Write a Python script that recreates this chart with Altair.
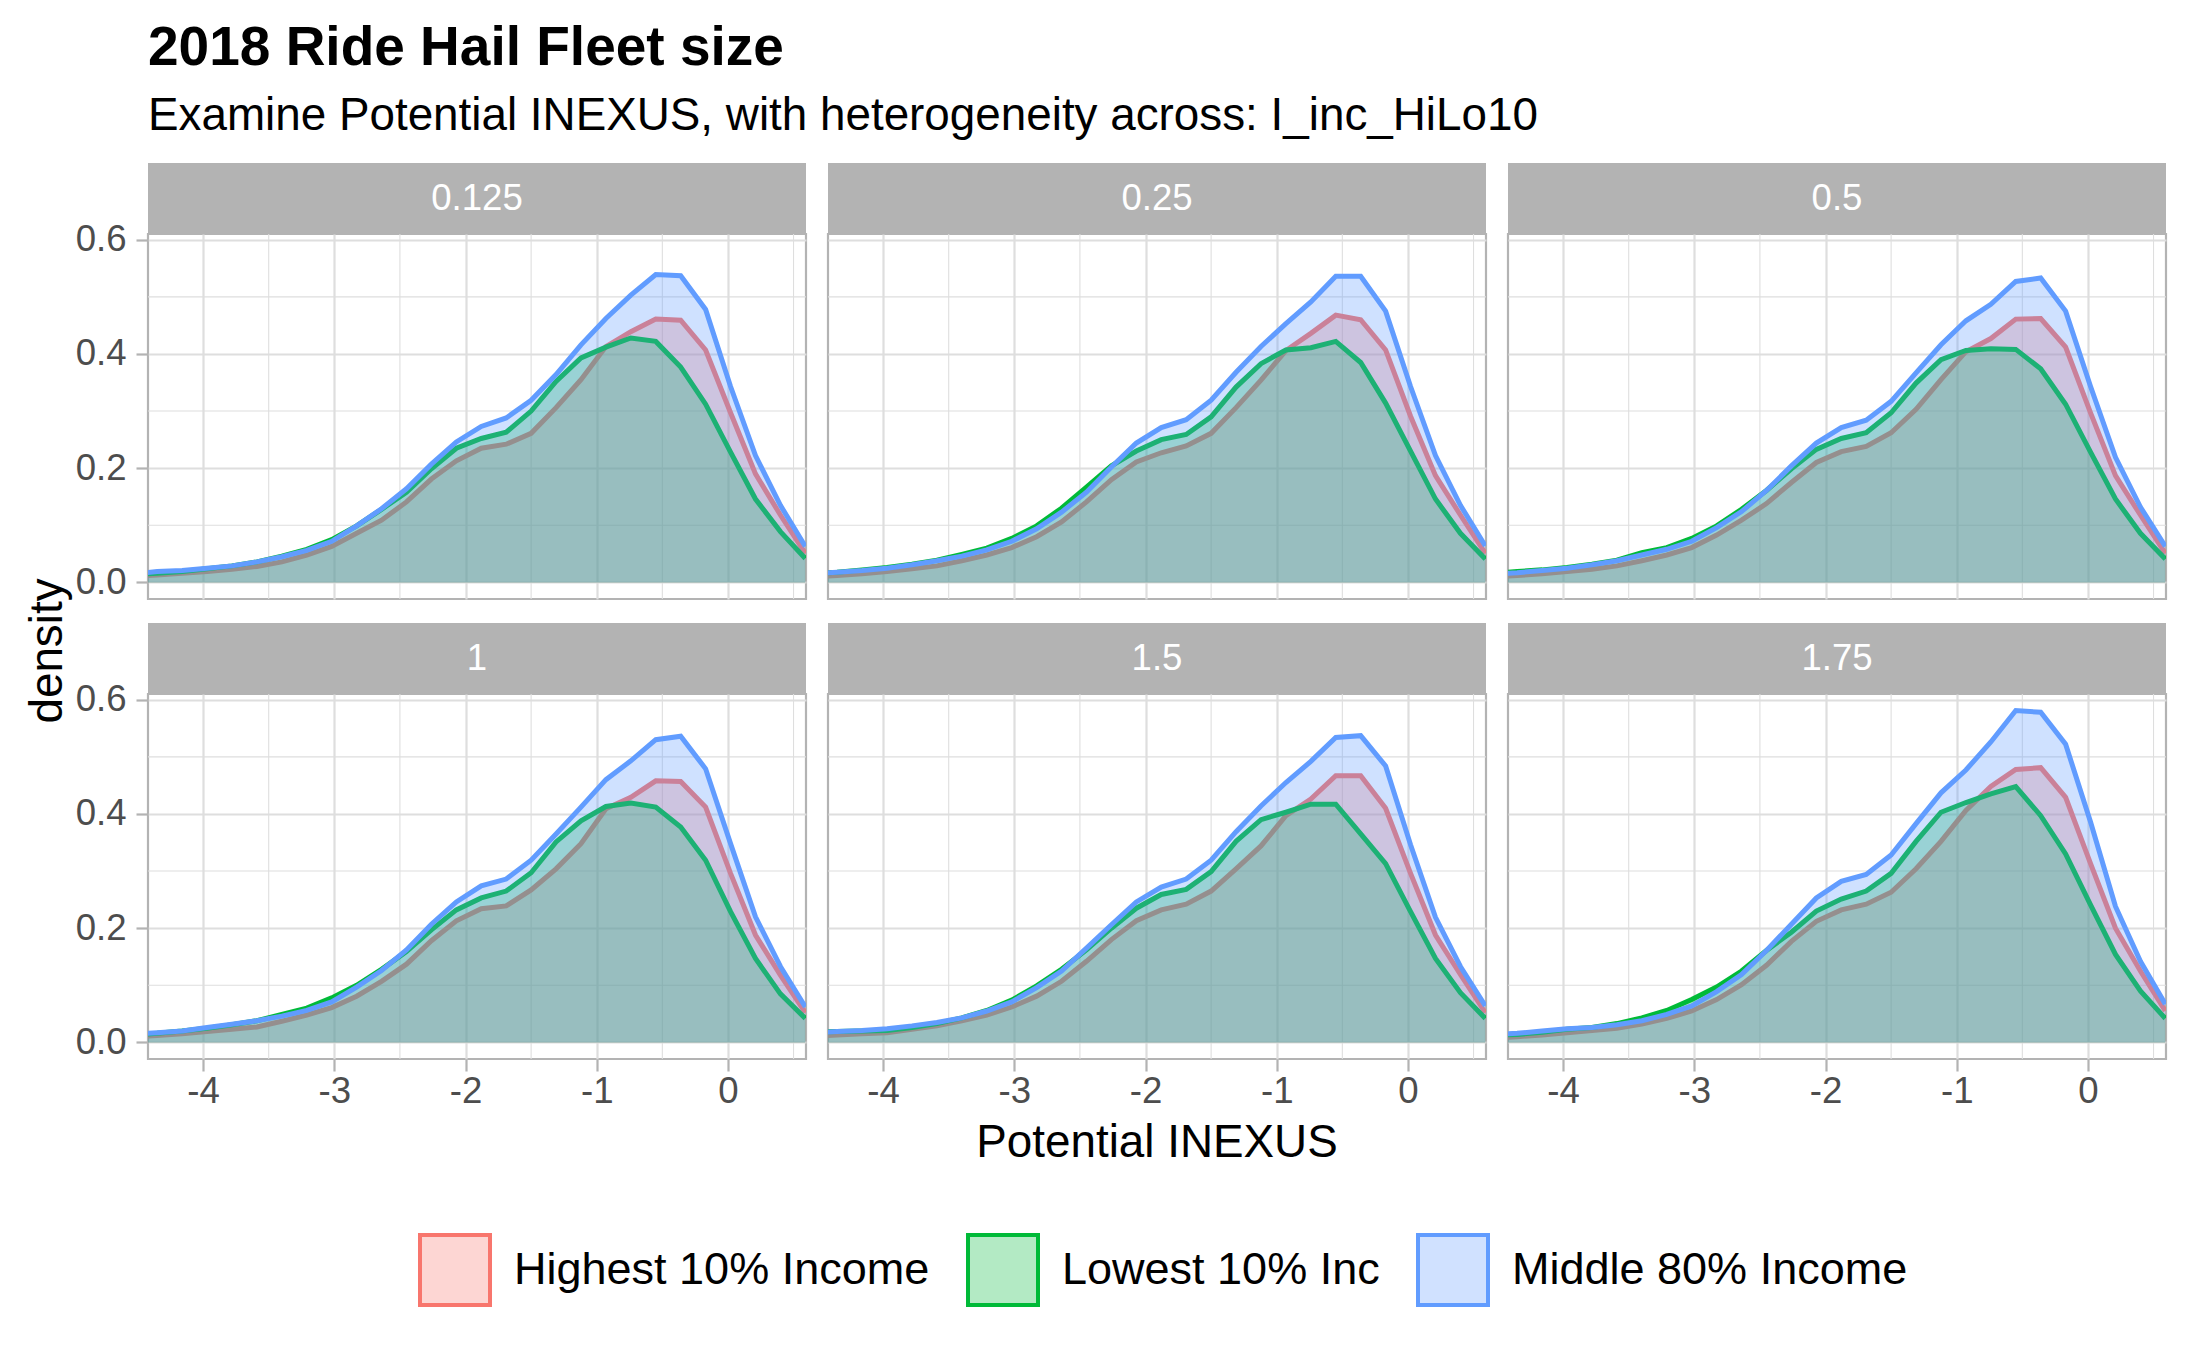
import altair as alt
import pandas as pd

FONT = "Liberation Sans"

GROUPS = ["Highest 10% Income", "Lowest 10% Inc", "Middle 80% Income"]
LINE_COLORS = ["#F8766D", "#00BA38", "#619CFF"]
KEY_FILLS = ["#FDD6D3", "#B3EAC4", "#D0E1FF"]

X_TICKS = [-4, -3, -2, -1, 0]
X_MINOR = [-3.5, -2.5, -1.5, -0.5, 0.5]
Y_TICKS = [0.0, 0.2, 0.4, 0.6]
Y_MINOR = [0.1, 0.3, 0.5]

# shared evaluation grid of the density curves
X_GRID = [-4.54, -4.35, -4.16, -3.97, -3.78, -3.59, -3.40, -3.21, -3.02, -2.83,
          -2.64, -2.45, -2.26, -2.07, -1.88, -1.69, -1.50, -1.31, -1.12, -0.93,
          -0.74, -0.55, -0.36, -0.17, 0.02, 0.21, 0.40, 0.59]

HI_0125 = [0.011, 0.013, 0.016, 0.019, 0.023, 0.028, 0.036, 0.048, 0.063, 0.086,
           0.109, 0.141, 0.181, 0.213, 0.235, 0.242, 0.261, 0.306, 0.355, 0.413,
           0.439, 0.461, 0.459, 0.407, 0.297, 0.190, 0.118, 0.051]
LO_0125 = [0.014, 0.016, 0.019, 0.024, 0.029, 0.036, 0.046, 0.058, 0.075, 0.099,
           0.128, 0.158, 0.199, 0.235, 0.252, 0.263, 0.300, 0.352, 0.393, 0.412,
           0.428, 0.422, 0.377, 0.312, 0.228, 0.146, 0.089, 0.042]
MID_0125 = [0.015, 0.019, 0.021, 0.025, 0.029, 0.036, 0.045, 0.056, 0.072, 0.099,
            0.129, 0.164, 0.207, 0.246, 0.273, 0.288, 0.319, 0.364, 0.416, 0.462,
            0.503, 0.539, 0.537, 0.478, 0.343, 0.222, 0.135, 0.063]

HI_025 = [0.010, 0.012, 0.015, 0.019, 0.024, 0.029, 0.038, 0.048, 0.061, 0.080,
          0.106, 0.141, 0.180, 0.211, 0.227, 0.239, 0.261, 0.306, 0.354, 0.406,
          0.436, 0.468, 0.460, 0.407, 0.291, 0.187, 0.118, 0.051]
LO_025 = [0.015, 0.018, 0.022, 0.026, 0.032, 0.039, 0.049, 0.060, 0.077, 0.099,
          0.130, 0.167, 0.204, 0.230, 0.250, 0.259, 0.290, 0.342, 0.383, 0.407,
          0.411, 0.422, 0.385, 0.314, 0.230, 0.146, 0.086, 0.041]
MID_025 = [0.015, 0.018, 0.021, 0.025, 0.031, 0.038, 0.046, 0.057, 0.072, 0.094,
           0.123, 0.158, 0.202, 0.244, 0.271, 0.285, 0.319, 0.368, 0.413, 0.453,
           0.491, 0.536, 0.536, 0.475, 0.343, 0.222, 0.135, 0.064]

HI_05 = [0.010, 0.012, 0.015, 0.019, 0.023, 0.029, 0.038, 0.048, 0.061, 0.083,
         0.109, 0.138, 0.175, 0.210, 0.229, 0.238, 0.262, 0.303, 0.355, 0.404,
         0.427, 0.461, 0.462, 0.412, 0.297, 0.187, 0.118, 0.051]
LO_05 = [0.016, 0.019, 0.022, 0.026, 0.032, 0.039, 0.052, 0.061, 0.077, 0.099,
         0.128, 0.161, 0.199, 0.233, 0.252, 0.262, 0.297, 0.349, 0.390, 0.406,
         0.409, 0.408, 0.374, 0.312, 0.228, 0.146, 0.086, 0.041]
MID_05 = [0.014, 0.017, 0.021, 0.025, 0.031, 0.038, 0.048, 0.058, 0.072, 0.096,
          0.124, 0.161, 0.204, 0.244, 0.271, 0.284, 0.317, 0.367, 0.416, 0.458,
          0.487, 0.527, 0.533, 0.475, 0.343, 0.219, 0.132, 0.063]

HI_1 = [0.010, 0.012, 0.015, 0.019, 0.023, 0.027, 0.037, 0.048, 0.061, 0.081,
        0.107, 0.137, 0.178, 0.213, 0.234, 0.239, 0.267, 0.304, 0.348, 0.409,
        0.429, 0.458, 0.457, 0.412, 0.296, 0.188, 0.118, 0.052]
LO_1 = [0.013, 0.016, 0.020, 0.025, 0.031, 0.038, 0.049, 0.060, 0.078, 0.100,
        0.128, 0.159, 0.197, 0.232, 0.253, 0.265, 0.297, 0.351, 0.388, 0.413,
        0.419, 0.412, 0.377, 0.319, 0.229, 0.147, 0.085, 0.042]
MID_1 = [0.014, 0.017, 0.020, 0.026, 0.032, 0.038, 0.046, 0.056, 0.071, 0.097,
         0.126, 0.162, 0.207, 0.246, 0.274, 0.286, 0.319, 0.365, 0.412, 0.460,
         0.493, 0.530, 0.536, 0.479, 0.348, 0.220, 0.133, 0.062]

HI_15 = [0.011, 0.013, 0.015, 0.017, 0.023, 0.029, 0.038, 0.048, 0.062, 0.081,
         0.107, 0.142, 0.180, 0.213, 0.232, 0.242, 0.265, 0.304, 0.344, 0.397,
         0.426, 0.467, 0.467, 0.410, 0.296, 0.188, 0.119, 0.052]
LO_15 = [0.018, 0.019, 0.020, 0.021, 0.026, 0.033, 0.043, 0.056, 0.074, 0.099,
         0.128, 0.162, 0.200, 0.235, 0.259, 0.268, 0.299, 0.352, 0.390, 0.403,
         0.417, 0.417, 0.365, 0.313, 0.229, 0.147, 0.087, 0.042]
MID_15 = [0.017, 0.019, 0.021, 0.024, 0.029, 0.035, 0.043, 0.055, 0.071, 0.096,
          0.125, 0.165, 0.206, 0.246, 0.272, 0.286, 0.319, 0.369, 0.414, 0.455,
          0.492, 0.534, 0.537, 0.484, 0.346, 0.219, 0.133, 0.064]

HI_175 = [0.008, 0.010, 0.013, 0.017, 0.021, 0.025, 0.032, 0.042, 0.055, 0.075,
          0.101, 0.135, 0.177, 0.212, 0.232, 0.242, 0.263, 0.304, 0.352, 0.406,
          0.448, 0.478, 0.481, 0.429, 0.313, 0.200, 0.125, 0.055]
LO_175 = [0.012, 0.014, 0.018, 0.023, 0.026, 0.033, 0.043, 0.056, 0.075, 0.097,
          0.125, 0.161, 0.193, 0.230, 0.251, 0.265, 0.296, 0.352, 0.403, 0.420,
          0.435, 0.448, 0.397, 0.330, 0.241, 0.154, 0.090, 0.042]
MID_175 = [0.014, 0.016, 0.020, 0.024, 0.026, 0.031, 0.038, 0.049, 0.064, 0.089,
           0.119, 0.161, 0.207, 0.253, 0.282, 0.294, 0.328, 0.383, 0.437, 0.477,
           0.526, 0.581, 0.578, 0.522, 0.386, 0.238, 0.142, 0.067]

PANELS = [
    ("0.125", HI_0125, LO_0125, MID_0125),
    ("0.25", HI_025, LO_025, MID_025),
    ("0.5", HI_05, LO_05, MID_05),
    ("1", HI_1, LO_1, MID_1),
    ("1.5", HI_15, LO_15, MID_15),
    ("1.75", HI_175, LO_175, MID_175),
]

PANEL_W = 658
PANEL_H = 365
STRIP_H = 71
COL_GAP = 22
ROW_GAP = 24

GRID_COLOR = "#DEDEDE"
BORDER_COLOR = "#B3B3B3"
TICK_LABEL_COLOR = "#4D4D4D"

x_scale = alt.Scale(domain=[-4.42, 0.595], nice=False, zero=False)
y_scale = alt.Scale(domain=[-0.029, 0.61], nice=False, zero=False)
# domain comes from the data (sorted names), so it stays apart from the legend scales
color_scale = alt.Scale(range=LINE_COLORS)

ONE = pd.DataFrame({"t": [""]})


def text_layer(text, x, y, size, **kw):
    return (
        alt.Chart(ONE)
        .mark_text(text=text, fontSize=size, font=FONT, color="black", **kw)
        .encode(x=alt.value(x), y=alt.value(y))
    )


def make_panel(label, hi, lo, mid, show_x, show_y, under_strip=(), extra=()):
    x_axis = alt.Axis(
        values=X_TICKS, labels=show_x, ticks=show_x, domain=False, grid=True,
        gridColor=GRID_COLOR, gridWidth=2.2, tickColor=BORDER_COLOR, tickWidth=2.2,
        tickSize=12, labelFontSize=36.6, labelColor=TICK_LABEL_COLOR, labelFont=FONT,
        labelPadding=2, labelFlush=False, labelExpr="datum.value + ''", title=None,
    )
    y_axis = alt.Axis(
        values=Y_TICKS, labels=show_y, ticks=show_y, domain=False, grid=True,
        gridColor=GRID_COLOR, gridWidth=2.2, tickColor=BORDER_COLOR, tickWidth=2.2,
        tickSize=12, labelFontSize=36.6, labelColor=TICK_LABEL_COLOR, labelFont=FONT,
        labelPadding=10, labelFlush=False, format=".1f", title=None,
    )

    minor_x = (
        alt.Chart(pd.DataFrame({"x": X_MINOR}))
        .mark_rule(color=GRID_COLOR, strokeWidth=1.1)
        .encode(x=alt.X("x:Q", scale=x_scale, axis=x_axis))
    )
    minor_y = (
        alt.Chart(pd.DataFrame({"density": Y_MINOR}))
        .mark_rule(color=GRID_COLOR, strokeWidth=1.1)
        .encode(y=alt.Y("density:Q", scale=y_scale, axis=y_axis))
    )

    layers = [minor_x, minor_y]
    for group, values in zip(GROUPS, (hi, lo, mid)):
        df = pd.DataFrame({"x": X_GRID, "density": values, "group": group})
        base = alt.Chart(df).encode(
            x=alt.X("x:Q", scale=x_scale, axis=x_axis),
            y=alt.Y("density:Q", scale=y_scale, axis=y_axis),
            color=alt.Color("group:N", scale=color_scale, legend=None),
        )
        layers.append(base.mark_area(opacity=0.3, clip=True).encode(y2=alt.datum(0)))
        layers.append(base.mark_line(strokeWidth=5, clip=True))

    strip_df = pd.DataFrame({"label": [label]})
    strip = (
        alt.Chart(strip_df)
        .mark_rect(color=BORDER_COLOR)
        .encode(
            x=alt.value(0), x2=alt.value(PANEL_W),
            y=alt.value(-STRIP_H), y2=alt.value(0),
        )
    )
    strip_text = (
        alt.Chart(strip_df)
        .mark_text(color="white", fontSize=36.6, font=FONT)
        .encode(text="label:N", x=alt.value(PANEL_W / 2), y=alt.value(-STRIP_H / 2))
    )
    layers += [*under_strip, strip, strip_text, *extra]

    return alt.layer(*layers).properties(
        width=PANEL_W, height=PANEL_H,
        view=alt.ViewBackground(stroke=BORDER_COLOR, strokeWidth=2.2),
    )


def main() -> None:
    for _, hi, lo, mid in PANELS:
        assert len(hi) == len(lo) == len(mid) == len(X_GRID)

    # texts around the grid, placed relative to the top-left / bottom-left panels
    anchor = (
        alt.Chart(ONE)
        .mark_rect(color="white")
        .encode(x=alt.value(-138), x2=alt.value(-128), y=alt.value(-224), y2=alt.value(-214))
    )
    title = text_layer("2018 Ride Hail Fleet size", 0, -169, 55,
                       fontWeight="bold", align="left", baseline="alphabetic")
    subtitle = text_layer(
        "Examine Potential INEXUS, with heterogeneity across: I_inc_HiLo10",
        0, -104, 45.8, align="left", baseline="alphabetic",
    )
    y_title = text_layer("density", -100, 417, 45.8, angle=270)
    x_title = text_layer("Potential INEXUS", 1009, 463, 45.8, baseline="alphabetic")

    legend = alt.Legend(
        orient="none", legendX=270, legendY=999, direction="horizontal", title=None,
        symbolType="square", symbolSize=4900, symbolStrokeWidth=4,
        labelFontSize=45, labelFont=FONT, labelColor="black", labelOffset=22,
        columnPadding=30, labelLimit=1000, padding=0,
    )
    # legend carrier: tiny keys hidden under the first strip
    keys = (
        alt.Chart(pd.DataFrame({"group": GROUPS}))
        .mark_square(filled=True, opacity=1, strokeWidth=4, size=20)
        .encode(
            x=alt.value(20), y=alt.value(-STRIP_H / 2),
            fill=alt.Fill("group:N", scale=alt.Scale(domain=GROUPS, range=KEY_FILLS), legend=legend),
            stroke=alt.Stroke("group:N", scale=alt.Scale(domain=GROUPS, range=LINE_COLORS), legend=legend),
        )
    )

    panels = []
    for i, (label, hi, lo, mid) in enumerate(PANELS):
        kw = {}
        if i == 0:
            kw = {"under_strip": (keys,), "extra": (anchor, title, subtitle, y_title)}
        elif i == 3:
            kw = {"extra": (x_title,)}
        panels.append(make_panel(label, hi, lo, mid, show_x=i >= 3, show_y=i % 3 == 0, **kw))

    chart = (
        alt.concat(
            *panels, columns=3, bounds="flush",
            spacing=alt.RowColnumber(row=ROW_GAP + STRIP_H, column=COL_GAP),
        )
        .properties(padding=0)
        .configure(font=FONT)
        .configure_view(strokeWidth=0)
    )
    chart.save("out.html", embed_options={"renderer": "svg", "actions": False})


if __name__ == "__main__":
    main()
